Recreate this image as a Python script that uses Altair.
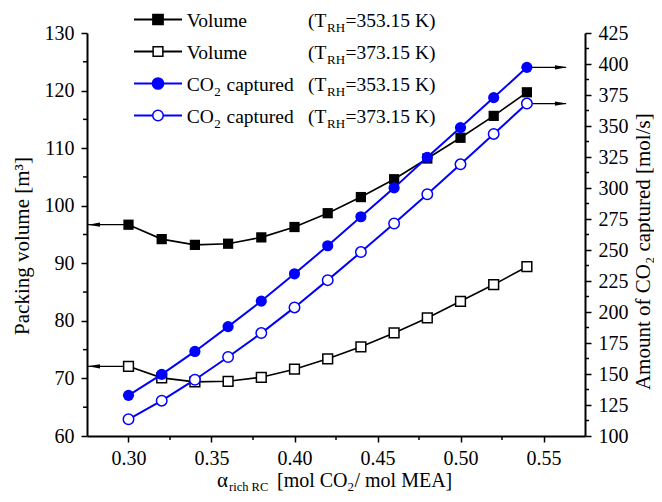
import altair as alt
import pandas as pd

# ---------------- data ----------------
alpha = [0.30, 0.32, 0.34, 0.36, 0.38, 0.40, 0.42, 0.44, 0.46, 0.48, 0.50, 0.52, 0.54]
vol_353 = [96.7, 94.2, 93.2, 93.4, 94.5, 96.3, 98.7, 101.5, 104.6, 108.2, 111.8, 115.6, 119.7]
vol_373 = [72.1, 70.1, 69.4, 69.5, 70.2, 71.6, 73.4, 75.5, 77.9, 80.5, 83.4, 86.3, 89.4]
co2_353 = [132.8, 149.7, 168.2, 188.2, 208.8, 230.8, 253.4, 276.8, 300.1, 324.8, 348.7, 372.9, 397.3]
co2_373 = [113.5, 128.5, 145.4, 163.7, 183.0, 203.7, 225.7, 248.3, 271.4, 295.0, 319.1, 343.6, 368.1]

x_ticks = [0.30, 0.35, 0.40, 0.45, 0.50, 0.55]
x_minor = [0.325, 0.375, 0.425, 0.475, 0.525]
left_ticks = [60, 70, 80, 90, 100, 110, 120, 130]
left_minor = [65, 75, 85, 95, 105, 115, 125]
right_ticks = [100, 125, 150, 175, 200, 225, 250, 275, 300, 325, 350, 375, 400, 425]
right_minor = [112.5, 137.5, 162.5, 187.5, 212.5, 237.5, 262.5, 287.5, 312.5, 337.5, 362.5, 387.5, 412.5]

legend_names = ["Volume", "Volume", "CO", "CO"]
legend_temps = ["=353.15 K)", "=373.15 K)", "=353.15 K)", "=373.15 K)"]

# ---------------- styling ----------------
FONT = "'Liberation Serif', 'Times New Roman', Times, serif"
W, H = 498, 403
BLUE = "#0000FF"

xscale = alt.Scale(domain=[0.275, 0.575], nice=False, zero=False)
lscale = alt.Scale(domain=[60, 130], nice=False, zero=False)
rscale = alt.Scale(domain=[100, 425], nice=False, zero=False)

common_axis = dict(title=None, grid=False, domainColor="black", domainWidth=2,
                   tickColor="black", tickWidth=1.5, tickSize=6,
                   labelFont=FONT, labelFontSize=20, labelColor="black")
xaxis = alt.Axis(values=x_ticks, format=".2f", orient="bottom",
                 labelBaseline="alphabetic", labelPadding=22, **common_axis)
laxis = alt.Axis(values=left_ticks, format="d", orient="left", labelPadding=7, **common_axis)
raxis = alt.Axis(values=right_ticks, format="d", orient="right", labelPadding=7, **common_axis)

X = lambda: alt.X("a:Q", scale=xscale, axis=xaxis)
YL = lambda: alt.Y("v:Q", scale=lscale, axis=laxis)
YR = lambda: alt.Y("v:Q", scale=rscale, axis=raxis)

df_v353 = pd.DataFrame({"a": alpha, "v": vol_353})
df_v373 = pd.DataFrame({"a": alpha, "v": vol_373})
df_c353 = pd.DataFrame({"a": alpha, "v": co2_353})
df_c373 = pd.DataFrame({"a": alpha, "v": co2_373})

arrow_left = "M-1,0L1,-0.36L1,0.36Z"
arrow_right = "M1,0L-1,-0.36L-1,0.36Z"

# ---------------- left (volume) layer ----------------
v1_line = alt.Chart(df_v353).mark_line(color="black", strokeWidth=1.6).encode(x=X(), y=YL())
v1_pts = alt.Chart(df_v353).mark_point(shape="square", filled=True, color="black",
                                       size=105, opacity=1).encode(x=X(), y=YL())
v2_line = alt.Chart(df_v373).mark_line(color="black", strokeWidth=1.6).encode(x=X(), y=YL())
v2_pts = alt.Chart(df_v373).mark_point(shape="square", filled=True, fill="white", stroke="black",
                                       strokeWidth=1.5, size=95, opacity=1).encode(x=X(), y=YL())

left_arrow_df = pd.DataFrame({"a": [alpha[0], alpha[0]], "a2": [0.2755, 0.2755],
                              "ah": [0.2792, 0.2792], "v": [vol_353[0], vol_373[0]]})
la_rule = alt.Chart(left_arrow_df).mark_rule(color="black", strokeWidth=1.3).encode(
    x=X(), x2="a2:Q", y=YL())
la_head = alt.Chart(left_arrow_df).mark_point(shape=arrow_left, filled=True, color="black",
                                              size=144, opacity=1).encode(
    x=alt.X("ah:Q", scale=xscale, axis=xaxis), y=YL())

lminor = alt.Chart(pd.DataFrame({"v": left_minor})).mark_rule(color="black", strokeWidth=1.5).encode(
    y=YL(), x=alt.value(0), x2=alt.value(-4))
xminor = alt.Chart(pd.DataFrame({"a": x_minor})).mark_rule(color="black", strokeWidth=1.5).encode(
    x=X(), y=alt.value(H), y2=alt.value(H + 4))

left_layer = alt.layer(lminor, xminor, v1_line, v2_line, la_rule, la_head, v1_pts, v2_pts)

# ---------------- right (CO2) layer ----------------
c1_line = alt.Chart(df_c353).mark_line(color=BLUE, strokeWidth=2).encode(x=X(), y=YR())
c1_pts = alt.Chart(df_c353).mark_point(shape="circle", filled=True, color=BLUE,
                                       size=125, opacity=1).encode(x=X(), y=YR())
c2_line = alt.Chart(df_c373).mark_line(color=BLUE, strokeWidth=2).encode(x=X(), y=YR())
c2_pts = alt.Chart(df_c373).mark_point(shape="circle", filled=True, fill="white", stroke=BLUE,
                                       strokeWidth=1.5, size=110, opacity=1).encode(x=X(), y=YR())

right_arrow_df = pd.DataFrame({"a": [alpha[-1], alpha[-1]], "a2": [0.5635, 0.5635],
                               "ah": [0.5605, 0.5605], "v": [co2_353[-1], co2_373[-1]]})
ra_rule = alt.Chart(right_arrow_df).mark_rule(color="black", strokeWidth=1.3).encode(
    x=X(), x2="a2:Q", y=YR())
ra_head = alt.Chart(right_arrow_df).mark_point(shape=arrow_right, filled=True, color="black",
                                               size=144, opacity=1).encode(
    x=alt.X("ah:Q", scale=xscale, axis=xaxis), y=YR())

rminor = alt.Chart(pd.DataFrame({"v": right_minor})).mark_rule(color="black", strokeWidth=1.5).encode(
    y=YR(), x=alt.value(W), x2=alt.value(W + 4))

# ---------------- legend & titles (pixel positioned annotations) ----------------
row_y = [-13.5 + 32 * i for i in range(4)]
line_colors = ["black", "black", BLUE, BLUE]
fills = ["black", "white", BLUE, "white"]
shapes = ["square", "square", "circle", "circle"]
sizes = [105, 95, 125, 110]

leg_lines = pd.DataFrame({"x1": [47] * 4, "x2": [95] * 4, "y": row_y, "col": line_colors})
leg_line_ch = alt.Chart(leg_lines).mark_rule(strokeWidth=1.8).encode(
    x=alt.X("x1:Q", scale=None), x2="x2:Q", y=alt.Y("y:Q", scale=None),
    color=alt.Color("col:N", scale=None))
leg_pts = pd.DataFrame({"x": [71] * 4, "y": row_y, "fill": fills, "stroke": line_colors,
                        "shape": shapes, "size": sizes})
leg_pt_ch = alt.Chart(leg_pts).mark_point(filled=True, strokeWidth=1.5, opacity=1).encode(
    x=alt.X("x:Q", scale=None), y=alt.Y("y:Q", scale=None),
    fill=alt.Fill("fill:N", scale=None), stroke=alt.Stroke("stroke:N", scale=None),
    shape=alt.Shape("shape:N", scale=None), size=alt.Size("size:Q", scale=None))

texts = []
for i, ry in enumerate(row_y):
    base, sub = ry + 7, ry + 12
    if legend_names[i] == "Volume":
        texts.append(("Volume", 99.7, base, 19.5))
    else:
        texts.append(("CO", 99.7, base, 19.5))
        texts.append(("2", 127.2, sub, 13))
        texts.append(("captured", 139.5, base, 19.5))
    texts.append(("(T", 221, base, 19.5))
    texts.append(("RH", 240, sub, 13))
    texts.append((legend_temps[i], 258.5, base, 19.5))

# x-axis title
texts += [("\u03b1", 130, 454, 21), ("rich RC", 142, 457.5, 12.5),
          ("[mol CO", 190, 454, 20), ("2", 260.6, 458, 13), ("/ mol MEA]", 267.5, 454, 20)]

tdf = pd.DataFrame(texts, columns=["t", "x", "y", "fs"])
text_ch = alt.Chart(tdf).mark_text(align="left", baseline="alphabetic", font=FONT, color="black").encode(
    x=alt.X("x:Q", scale=None), y=alt.Y("y:Q", scale=None), text="t:N",
    size=alt.Size("fs:Q", scale=None))

rot = pd.DataFrame({"t": ["Packing volume [m\u00b3]", "Amount of CO\u2082 captured [mol/s]"],
                    "x": [-58, 563], "y": [213, 218.7]})
rot_ch = alt.Chart(rot).mark_text(align="center", baseline="alphabetic", font=FONT, fontSize=21,
                                  angle=270, color="black").encode(
    x=alt.X("x:Q", scale=None), y=alt.Y("y:Q", scale=None), text="t:N")

right_layer = alt.layer(rminor, c1_line, c2_line, ra_rule, ra_head, c1_pts, c2_pts,
                        leg_line_ch, leg_pt_ch, text_ch, rot_ch)

chart = alt.layer(left_layer, right_layer).resolve_scale(y="independent").properties(
    width=W, height=H, autosize=alt.AutoSizeParams(type="none"),
    padding={"left": 79, "top": 25, "right": 69, "bottom": 58},
    background="white"
).configure_view(stroke=None)

chart.save("out.html", embed_options={"renderer": "svg", "actions": False})
